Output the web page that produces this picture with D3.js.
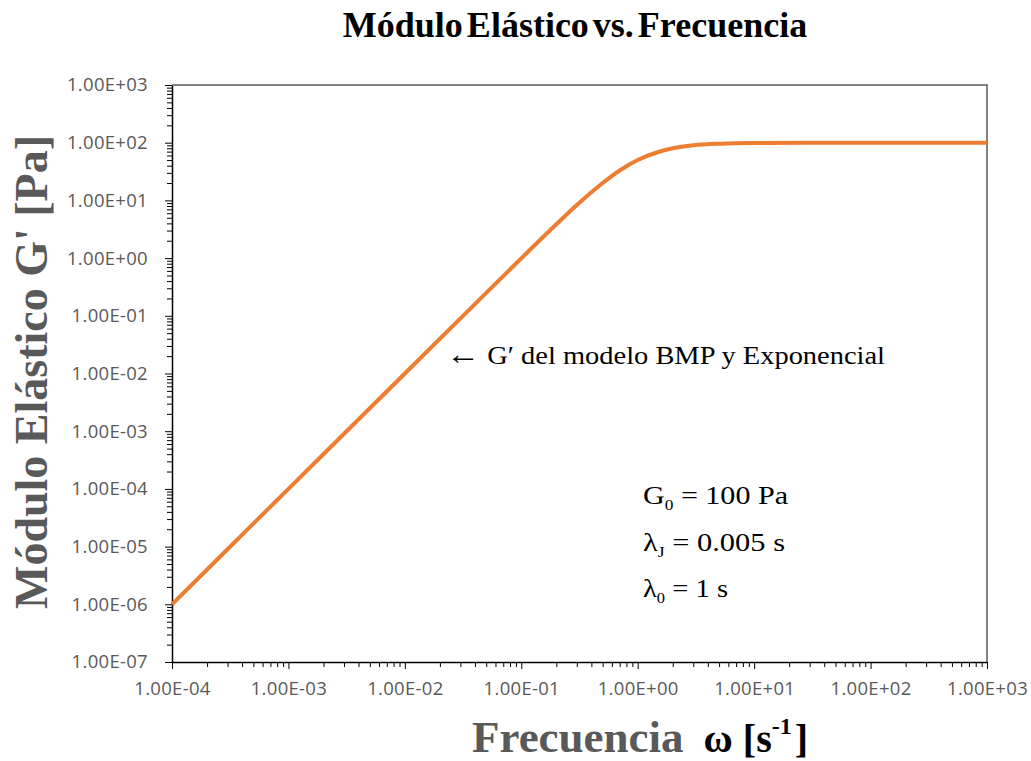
<!DOCTYPE html>
<html>
<head>
<meta charset="utf-8">
<script src="https://cdn.jsdelivr.net/npm/d3@7"></script>
<style>
  body { margin: 0; background: #fff; }
  svg text { font-family: "Liberation Serif", "DejaVu Serif", serif; }
  .tick text { font-family: "Open Sans", "Liberation Sans", sans-serif; }
</style>
</head>
<body>
<div class="chart"></div>
<script>
const WIDTH = 1031
const HEIGHT = 761
const MARGIN = {top: 85, right: 44, bottom: 99, left: 172}

// frequency [1/s]
const FREQ = [1e-4, 1e-3, 1e-2, 0.05, 0.1, 0.2, 0.3, 0.5, 0.7, 1, 1.5, 2, 3, 5, 7, 10, 30, 100, 1000]
// G' [Pa]
const G_PRIME = [1e-6, 1e-4, 1e-2, 0.25, 0.99, 3.85, 8.3, 20, 33, 50, 69, 80, 90, 96, 98, 99, 99.9, 100, 100]
const X_TICKS = [1e-4, 1e-3, 1e-2, 1e-1, 1e0, 1e1, 1e2, 1e3]
const Y_TICKS = [1e-7, 1e-6, 1e-5, 1e-4, 1e-3, 1e-2, 1e-1, 1e0, 1e1, 1e2, 1e3]

const fmt = v => {
  let s = v.toExponential(2).toUpperCase()
  return s.replace(/E([+-])(\d)$/, "E$10$2")
}

let svg = d3.select(".chart").append("svg").attr("width", WIDTH).attr("height", HEIGHT)

let x = d3.scaleLog().domain([1e-4, 1e3]).range([MARGIN.left, WIDTH - MARGIN.right])
let y = d3.scaleLog().domain([1e-7, 1e3]).range([HEIGHT - MARGIN.bottom, MARGIN.top])

// minor ticks (2..9 in each decade)
let minorX = [], minorY = []
for (let d of X_TICKS.slice(0, -1)) for (let k = 2; k < 10; k++) minorX.push(d * k)
for (let d of Y_TICKS.slice(0, -1)) for (let k = 2; k < 10; k++) minorY.push(d * k)

svg.append("g").attr("transform", `translate(0, ${y.range()[0]})`)
  .call(d3.axisBottom(x).tickValues(minorX).tickSize(5).tickFormat(""))
  .call(g => g.select(".domain").remove())
  .selectAll("line").attr("stroke", "#000")
svg.append("g").attr("transform", `translate(${x.range()[0]}, 0)`)
  .call(d3.axisLeft(y).tickValues(minorY).tickSize(5).tickFormat(""))
  .call(g => g.select(".domain").remove())
  .selectAll("line").attr("stroke", "#000")

// major axes
let bottom = svg.append("g").attr("transform", `translate(0, ${y.range()[0]})`)
  .call(d3.axisBottom(x).tickValues(X_TICKS).tickSize(7).tickSizeOuter(0).tickFormat(fmt).tickPadding(13))
bottom.select(".domain").attr("stroke", "#000").attr("stroke-width", 1.5)
bottom.selectAll(".tick text").attr("fill", "#595959").attr("font-size", 18.5).attr("letter-spacing", 0.3)

let left = svg.append("g").attr("transform", `translate(${x.range()[0]}, 0)`)
  .call(d3.axisLeft(y).tickValues(Y_TICKS).tickSize(7).tickSizeOuter(0).tickFormat(fmt).tickPadding(17))
left.select(".domain").attr("stroke", "#000").attr("stroke-width", 1.5)
left.selectAll(".tick text").attr("fill", "#595959").attr("font-size", 18.5).attr("letter-spacing", 0.3)

// top and right border
svg.append("path")
  .attr("d", `M${x.range()[0]},${y.range()[1]}H${x.range()[1]}V${y.range()[0]}`)
  .attr("fill", "none").attr("stroke", "#595959").attr("stroke-width", 1.5)

// curve
let data = FREQ.map((f, i) => ({f, g: G_PRIME[i]}))
let line = d3.line().x(d => x(d.f)).y(d => y(d.g)).curve(d3.curveMonotoneX)
svg.append("path").datum(data).attr("d", line)
  .attr("fill", "none").attr("stroke", "#ED7D31").attr("stroke-width", 4)

// title
svg.append("text").attr("x", 575).attr("y", 37).attr("text-anchor", "middle")
  .attr("font-size", 36).attr("font-weight", "bold").attr("fill", "#000")
  .attr("word-spacing", -5)
  .text("Módulo Elástico vs. Frecuencia")

// y axis title
svg.append("text").attr("transform", "translate(47, 372) rotate(-90)").attr("text-anchor", "middle")
  .attr("font-size", 46).attr("font-weight", "bold").attr("fill", "#595959")
  .text("Módulo Elástico G' [Pa]")

// x axis title
let xt = svg.append("text").attr("x", 472).attr("y", 752).attr("font-weight", "bold")
xt.append("tspan").attr("font-size", 45).attr("fill", "#595959").text("Frecuencia")
xt.append("tspan").attr("dx", 20).attr("font-size", 40).attr("fill", "#000").text("ω [s")
xt.append("tspan").attr("font-size", 24).attr("dy", -18).attr("fill", "#000").text("-1")
xt.append("tspan").attr("font-size", 40).attr("dy", 18).attr("dx", 3).attr("fill", "#000").text("]")

// annotation
let ann = svg.append("text").attr("x", 446).attr("y", 364).attr("font-size", 25).attr("fill", "#000")
  .attr("textLength", 439).attr("lengthAdjust", "spacingAndGlyphs")
ann.append("tspan").attr("font-size", 30).text("←")
ann.append("tspan").text(" G′ del modelo BMP y Exponencial")

let params = [["G", "0", " = 100 Pa", 504, 145], ["λ", "J", " = 0.005 s", 551, 142], ["λ", "0", " = 1 s", 597, 85]]
for (let [a, sub, rest, yy, len] of params) {
  let t = svg.append("text").attr("x", 643).attr("y", yy).attr("font-size", 26).attr("fill", "#000")
    .attr("textLength", len).attr("lengthAdjust", "spacingAndGlyphs")
  t.append("tspan").text(a)
  t.append("tspan").attr("font-size", 15).attr("dy", 6).text(sub)
  t.append("tspan").attr("dy", -6).text(rest)
}
</script>
</body>
</html>
